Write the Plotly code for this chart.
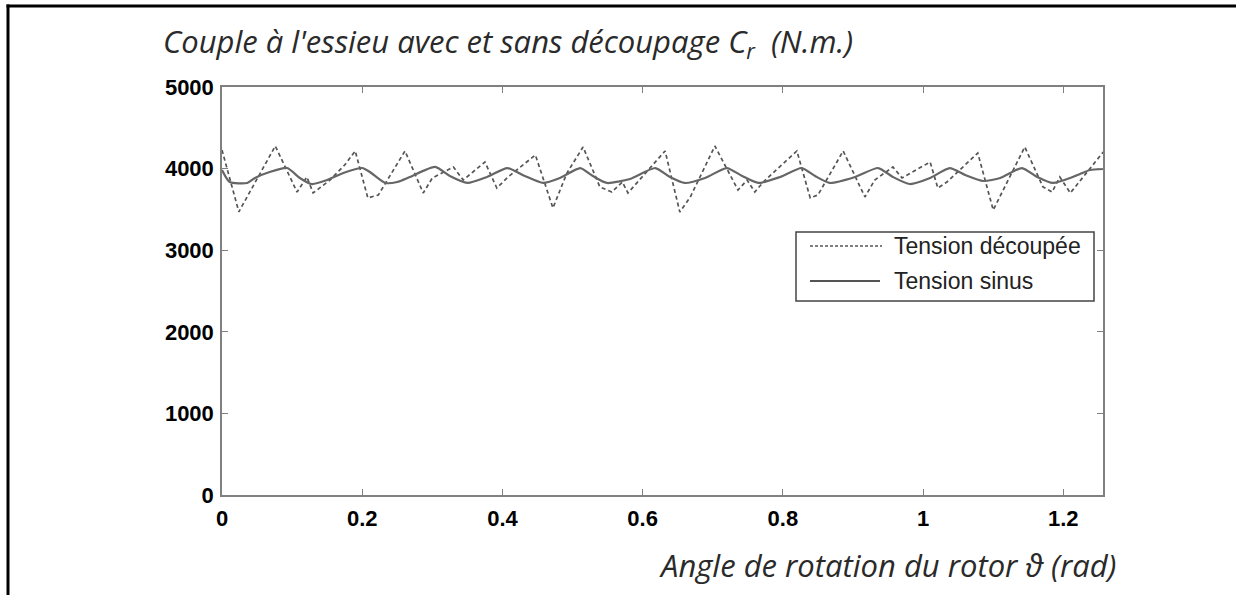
import plotly.graph_objects as go

# Rotor angle (rad) and axle torque (N.m) for the two supply modes
theta_sinus = [0.000, 0.011, 0.036, 0.047, 0.068, 0.093, 0.111, 0.128, 0.150, 0.173,
               0.200, 0.211, 0.233, 0.250, 0.268, 0.304, 0.325, 0.350, 0.378, 0.407,
               0.432, 0.458, 0.482, 0.511, 0.529, 0.549, 0.582, 0.618, 0.639, 0.660,
               0.689, 0.720, 0.742, 0.765, 0.796, 0.827, 0.846, 0.867, 0.903, 0.936,
               0.957, 0.981, 1.010, 1.038, 1.060, 1.086, 1.110, 1.141, 1.163, 1.185,
               1.217, 1.238, 1.257]
couple_sinus = [3983, 3836, 3824, 3885, 3958, 4007, 3885, 3811, 3860, 3946,
                4007, 3958, 3824, 3836, 3897, 4020, 3909, 3824, 3897, 4007,
                3909, 3824, 3885, 4007, 3909, 3824, 3873, 4007, 3897, 3824,
                3885, 4007, 3909, 3824, 3897, 4007, 3909, 3824, 3897, 4007,
                3897, 3811, 3885, 4007, 3922, 3848, 3885, 4007, 3897, 3824,
                3909, 3983, 3995]

theta_decoupe = [0.000, 0.024, 0.076, 0.107, 0.121, 0.130, 0.154, 0.175, 0.190, 0.208,
                 0.223, 0.261, 0.287, 0.300, 0.330, 0.344, 0.375, 0.392, 0.408, 0.447,
                 0.472, 0.492, 0.515, 0.539, 0.556, 0.571, 0.579, 0.592, 0.632, 0.653,
                 0.668, 0.703, 0.736, 0.749, 0.760, 0.772, 0.820, 0.839, 0.850, 0.886,
                 0.917, 0.931, 0.957, 0.970, 1.010, 1.021, 1.034, 1.078, 1.100, 1.145,
                 1.171, 1.184, 1.195, 1.210, 1.257]
couple_decoupe = [4228, 3470, 4277, 3713, 3897, 3701, 3860, 4044, 4216, 3640,
                  3677, 4216, 3701, 3885, 4020, 3860, 4081, 3762, 3897, 4167,
                  3517, 3946, 4265, 3775, 3713, 3836, 3701, 3824, 4216, 3468,
                  3652, 4277, 3738, 3860, 3713, 3836, 4216, 3640, 3677, 4216,
                  3652, 3860, 4020, 3885, 4081, 3762, 3836, 4191, 3493, 4265,
                  3775, 3713, 3897, 3701, 4204]

x_ticks = [0, 0.2, 0.4, 0.6, 0.8, 1.0, 1.2]
x_tick_labels = ["0", "0.2", "0.4", "0.6", "0.8", "1", "1.2"]
y_ticks = [0, 1000, 2000, 3000, 4000, 5000]
y_tick_labels = ["0", "1000", "2000", "3000", "4000", "5000"]

series_names = ["Tension découpée", "Tension sinus"]

X_MAX = 1.2566
AXIS_GREY = "#808080"
TICK_FONT = dict(family="Liberation Sans", size=22, color="#000000", weight=700)
ITALIC_FONT = dict(family="Open Sans", size=31, color="#2a2a2a", style="italic")

fig = go.Figure()
fig.add_trace(go.Scatter(
    x=theta_decoupe, y=couple_decoupe, mode="lines", name=series_names[0],
    line=dict(color="#555555", width=1.7, dash="4px,3px"), showlegend=False))
fig.add_trace(go.Scatter(
    x=theta_sinus, y=couple_sinus, mode="lines", name=series_names[1],
    line=dict(color="#666666", width=2.2, shape="spline", smoothing=0.6),
    showlegend=False))

axis_common = dict(showline=True, linecolor=AXIS_GREY, linewidth=1.5, mirror="ticks",
                   ticks="inside", ticklen=6, tickcolor=AXIS_GREY, tickwidth=1,
                   showgrid=False, zeroline=False, tickfont=TICK_FONT)
fig.update_xaxes(range=[0, X_MAX], tickvals=x_ticks, ticktext=x_tick_labels,
                 ticklabelstandoff=3, **axis_common)
fig.update_yaxes(range=[0, 5000], tickvals=y_ticks, ticktext=y_tick_labels,
                 ticklabelstandoff=2, **axis_common)

# Legend box and page frame drawn in paper units
def px_x(p):
    return (p - 222) / 881

def px_y(p):
    return (495 - p) / 408

shapes = [
    dict(type="rect", xref="paper", yref="paper", x0=px_x(796), x1=px_x(1094),
         y0=px_y(301), y1=px_y(232), line=dict(color="#444444", width=1.5),
         fillcolor="white", layer="above"),
    dict(type="line", xref="paper", yref="paper", x0=px_x(810), x1=px_x(882),
         y0=px_y(246), y1=px_y(246), line=dict(color="#555555", width=1.5, dash="3px,2px")),
    dict(type="line", xref="paper", yref="paper", x0=px_x(810), x1=px_x(880),
         y0=px_y(281), y1=px_y(281), line=dict(color="#555555", width=2)),
    dict(type="line", xref="paper", yref="paper", x0=px_x(6.5), x1=px_x(1240),
         y0=px_y(6), y1=px_y(6), line=dict(color="black", width=3)),
    dict(type="line", xref="paper", yref="paper", x0=px_x(8), x1=px_x(8),
         y0=px_y(4.5), y1=px_y(600), line=dict(color="black", width=3)),
]

annotations = [
    dict(text=series_names[0], xref="paper", yref="paper", x=px_x(892), y=px_y(246),
         xanchor="left", yanchor="middle", showarrow=False,
         font=dict(family="Liberation Sans", size=23, color="#222222")),
    dict(text=series_names[1], xref="paper", yref="paper", x=px_x(892), y=px_y(281),
         xanchor="left", yanchor="middle", showarrow=False,
         font=dict(family="Liberation Sans", size=23, color="#222222")),
    dict(text="Angle de rotation du rotor ϑ (rad)", xref="paper", yref="paper",
         x=px_x(1118), y=px_y(565), xanchor="right", yanchor="middle",
         showarrow=False, font=ITALIC_FONT),
]

fig.update_layout(
    width=1236, height=595,
    margin=dict(l=222, r=133, t=87, b=100),
    paper_bgcolor="white", plot_bgcolor="white",
    title=dict(text="Couple à l'essieu avec et sans découpage C<sub>r</sub>  (N.m.)",
               xref="container", x=163 / 1236, xanchor="left",
               yref="container", y=1 - 42 / 595, yanchor="middle", font=ITALIC_FONT),
    shapes=shapes,
    annotations=annotations,
)

fig.write_html("out.html")
